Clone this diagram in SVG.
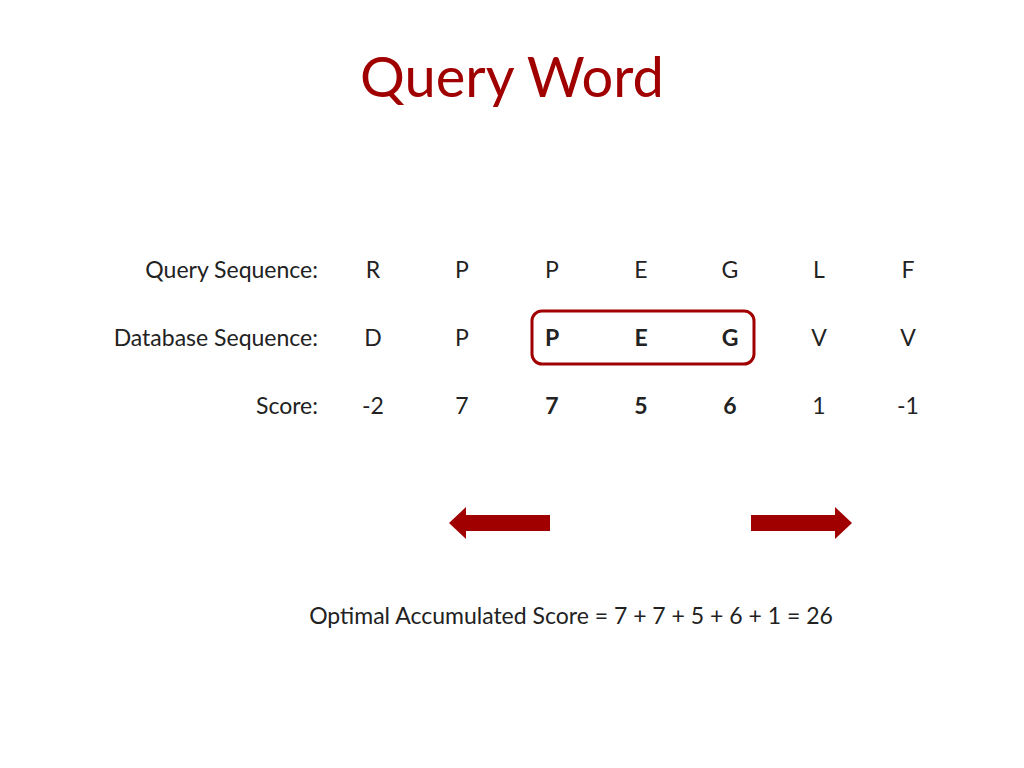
<svg xmlns="http://www.w3.org/2000/svg" width="1024" height="768" viewBox="0 0 1024 768">
<style>
text{font-family:Lato,"Open Sans","Liberation Sans",sans-serif;font-size:23px;fill:#222}
.c{text-anchor:middle}
.r{text-anchor:end}
.b{font-weight:bold}
.t{font-size:56px;fill:#A00000}
.a{fill:#A00000}
</style>
<rect width="1024" height="768" fill="#fff"/>
<text class="t c" x="512" y="97">Query Word</text>
<g id="labels">
<text class="r" x="318" y="278">Query Sequence:</text>
<text class="r" x="318" y="346">Database Sequence:</text>
<text class="r" x="318" y="414">Score:</text>
</g>
<g id="query">
<text class="c" x="373" y="278">R</text><text class="c" x="462" y="278">P</text><text class="c" x="552" y="278">P</text><text class="c" x="641" y="278">E</text><text class="c" x="730" y="278">G</text><text class="c" x="819" y="278">L</text><text class="c" x="908" y="278">F</text>
</g>
<g id="database">
<text class="c" x="373" y="346">D</text><text class="c" x="462" y="346">P</text><text class="c b" x="552" y="346">P</text><text class="c b" x="641" y="346">E</text><text class="c b" x="730" y="346">G</text><text class="c" x="819" y="346">V</text><text class="c" x="908" y="346">V</text>
</g>
<g id="score">
<text class="c" x="373" y="414">-2</text><text class="c" x="462" y="414">7</text><text class="c b" x="552" y="414">7</text><text class="c b" x="641" y="414">5</text><text class="c b" x="730" y="414">6</text><text class="c" x="819" y="414">1</text><text class="c" x="908" y="414">-1</text>
</g>
<g id="box"><rect x="532" y="311" width="222" height="53" rx="10" fill="none" stroke="#A00000" stroke-width="3"/></g>
<g id="connectors">
<polygon class="a" points="550,515 466,515 466,507 449,523 466,539 466,531 550,531"/>
<polygon class="a" points="751,515 835,515 835,507 852,523 835,539 835,531 751,531"/>
</g>
<text class="c" x="571" y="624">Optimal Accumulated Score = 7 + 7 + 5 + 6 + 1 = 26</text>
</svg>
